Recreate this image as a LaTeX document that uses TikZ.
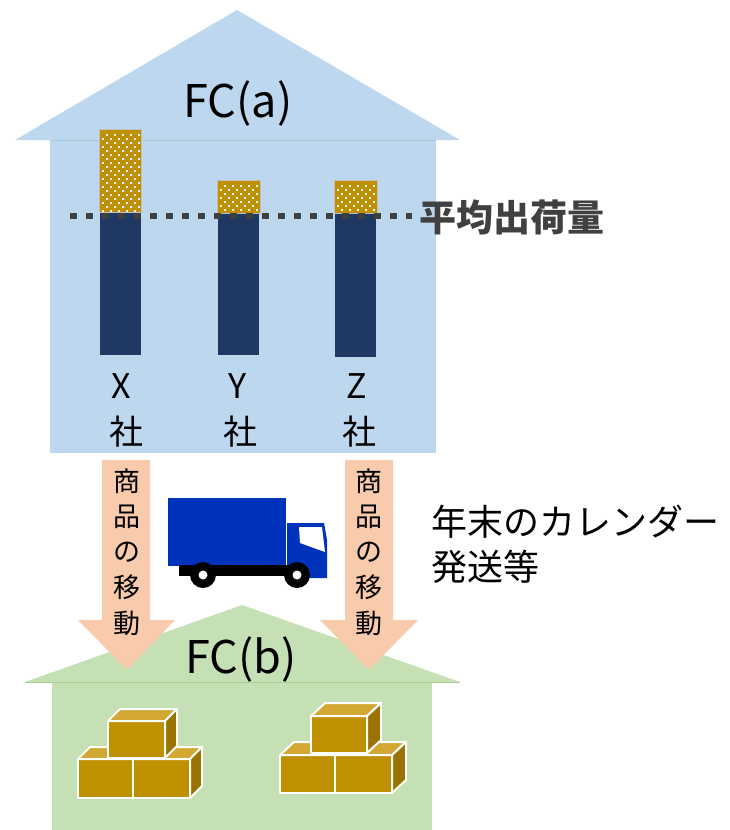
\documentclass[tikz,border=0pt]{standalone}
\usepackage{fontspec}
\setmainfont{Noto Sans CJK JP}
\begin{document}
\definecolor{skyfill}{HTML}{BDD7EE}
\definecolor{leaffill}{HTML}{C5E0B4}
\definecolor{leafline}{HTML}{A9D18E}
\definecolor{navybar}{HTML}{1F3864}
\definecolor{goldbar}{HTML}{BF9000}
\definecolor{goldtop}{HTML}{D2A832}
\definecolor{goldside}{HTML}{9A7300}
\definecolor{darkgray}{HTML}{404040}
\definecolor{peach}{HTML}{F8CBAD}
\definecolor{truckblue}{HTML}{0033BB}
\tikzset{
  lbl/.style={inner sep=0pt, font=\fontsize{34}{34}\selectfont},
  title/.style={inner sep=0pt, font=\fontsize{45}{45}\selectfont},
  vlbl/.style={inner sep=0pt, font=\fontsize{27}{27}\selectfont},
  note/.style={inner sep=0pt, anchor=west, font=\fontsize{36}{36}\selectfont},
  cratebox/.style={draw=white, line width=2pt, line join=round},
}
% one crate: front face at (x,y) with width w and height h, depth offset (dx,dy)
\newcommand\crate[6]{%
  \fill[goldbar, cratebox] (#1,#2) rectangle ++(#3,#4);
  \fill[goldtop, cratebox] (#1,#2) -- ++(#5,-#6) -- ++(#3,0) -- ++(-#5,#6) -- cycle;
  \fill[goldside, cratebox] (#1+#3,#2) -- ++(#5,-#6) -- ++(0,#4) -- ++(-#5,#6) -- cycle;
}
% gold block with a staggered field of white dots
\newcommand\dotblock[4]{%
  \fill[goldbar, draw=gray!50, line width=0.6pt] (#1,#2) rectangle (#3,#4);
  \begin{scope}
    \clip (#1+1,#2+1) rectangle (#3-1,#4-1);
    \foreach \j in {0,...,22} {
      \pgfmathsetmacro\yy{#2+5+\j*4}
      \pgfmathsetmacro\off{mod(\j,2)*4}
      \foreach \i in {0,...,5} {
        \fill[white] (#1+7-\off+\i*8,\yy) rectangle ++(2,2);
      }
    }
  \end{scope}
}
\begin{tikzpicture}[x=1pt,y=-1pt]
\useasboundingbox (0,0) rectangle (729,830);

% upper warehouse
\fill[skyfill] (15,140) -- (237,10) -- (460,140) -- cycle;
\fill[skyfill] (50,140) rectangle (436,453);
\draw[skyfill!85!black!60!skyfill, line width=0.5pt] (50,140) -- (436,140);
\node[title] (fca) at (238,104) {FC(a)};

% shipment bars
\fill[navybar] (100,212) rectangle (141,355);
\fill[navybar] (218,212) rectangle (259,355);
\fill[navybar] (335,212) rectangle (376,357);
\dotblock{99}{129}{141}{212}
\dotblock{217}{180}{260}{213}
\dotblock{334}{180}{377}{213}

% average line
\coordinate (avgL) at (70,216);
\coordinate (avgR) at (412,216);
\draw[darkgray, line width=6.5pt, dash pattern=on 7pt off 9pt] (avgL) -- (avgR);
\node[inner sep=0pt, anchor=west, text=darkgray, font=\fontsize{37}{37}\selectfont\bfseries] (avg) at (419,217) {平均出荷量};

\node[lbl] (xco) at (121,386) {X};
\node[lbl] (xsha) at (126,432) {社};
\node[lbl] (yco) at (238,386) {Y};
\node[lbl] (ysha) at (240,432) {社};
\node[lbl] (zco) at (357,386) {Z};
\node[lbl] (zsha) at (359,432) {社};

% lower warehouse
\fill[leaffill] (25,682) -- (242,605) -- (460,682) -- cycle;
\fill[leaffill] (52,682) rectangle (432,830);
\draw[leafline, line width=1pt] (25,682) -- (460,682);

% movement arrows
\fill[peach] (102,460) -- (150,460) -- (150,620) -- (175,620) -- (127,670) -- (78,620) -- (102,620) -- cycle;
\fill[peach] (345,460) -- (393,460) -- (393,620) -- (418,620) -- (369,670) -- (320,620) -- (345,620) -- cycle;
\foreach \c/\k [count=\n from 0] in {商/a,品/b,の/c,移/d,動/e} {
  \node[vlbl] (left\k) at (127,481+\n*35.5) {\c};
  \node[vlbl] (right\k) at (369,481+\n*35.5) {\c};
}

\node[title] (fcb) at (241,659) {FC(b)};

% truck
\fill[truckblue] (168,498) rectangle (286,566);
\fill[truckblue] (287,523) -- (324,523) -- (327,540) -- (327,578) -- (287,578) -- cycle;
\fill[white] (299,527) -- (322,527) -- (325,552) -- (300,543) -- cycle;
\fill[black] (179,565) rectangle (295,576);
\fill[black] (203,575) circle (13);
\fill[white] (203,575) circle (4.5);
\fill[black] (297,575) circle (13);
\fill[white] (297,575) circle (4.5);

\node[note] (cal1) at (431,522) {年末のカレンダー};
\node[note] (cal2) at (431,567) {発送等};

% crates, left stack
\crate{78}{759}{55}{39}{12}{12}
\crate{133}{759}{57}{39}{12}{12}
\crate{108}{721}{57}{37}{12}{12}
% crates, right stack
\crate{280}{755}{55}{38}{14}{13}
\crate{335}{755}{57}{38}{14}{13}
\crate{311}{716}{56}{37}{14}{13}
\end{tikzpicture}
\end{document}
